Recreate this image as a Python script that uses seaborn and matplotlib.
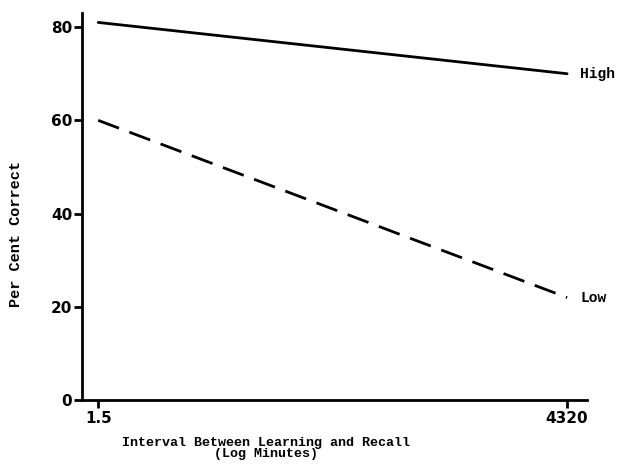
import matplotlib
matplotlib.use("Agg")
import matplotlib.pyplot as plt
import seaborn as sns
import pandas as pd
from matplotlib.ticker import FixedLocator, NullLocator

# data
intervals = [1.5, 4320]
high_values = [81, 70]
low_values = [60, 22]
group_names = ["High", "Low"]
y_ticks = [0, 20, 40, 60, 80]
x_tick_labels = ["1.5", "4320"]

df = pd.DataFrame({
    "interval": intervals * 2,
    "correct": high_values + low_values,
    "group": [group_names[0]] * len(intervals) + [group_names[1]] * len(intervals),
})

sns.set_style("ticks")
plt.rcParams['font.family'] = ['Liberation Mono', 'DejaVu Sans Mono']
plt.rcParams['text.color'] = 'black'
plt.rcParams['axes.labelcolor'] = 'black'
plt.rcParams['xtick.color'] = 'black'
plt.rcParams['ytick.color'] = 'black'

fig = plt.figure(figsize=(6.36, 4.68), dpi=100)
ax = fig.add_axes([0.129, 0.145, 0.794, 0.827])

sns.lineplot(data=df, x="interval", y="correct", hue="group", style="group",
             palette={"High": "black", "Low": "black"},
             dashes={"High": "", "Low": (8, 4)},
             linewidth=2.0, legend=False, ax=ax)

ax.set_xscale("log")
ax.set_xlim(1.14, 6060)
ax.set_ylim(0, 83)

ax.xaxis.set_major_locator(FixedLocator(intervals))
ax.xaxis.set_minor_locator(NullLocator())
ax.set_xticklabels(x_tick_labels, fontsize=11, fontweight="bold", family="DejaVu Sans")
ax.set_yticks(y_ticks)
ax.set_yticklabels([str(v) for v in y_ticks], fontsize=11, fontweight="bold", family="DejaVu Sans")

ax.tick_params(axis="both", which="major", direction="out", length=6, width=2,
               color="black", bottom=True, left=True)
ax.tick_params(axis="x", pad=2)
ax.tick_params(axis="y", pad=1)

sns.despine(ax=ax)
for side in ["left", "bottom"]:
    ax.spines[side].set_linewidth(2.0)
    ax.spines[side].set_color("black")

# end labels
ax.text(intervals[-1] * 1.25, high_values[-1], group_names[0], fontsize=10.5,
        fontweight="bold", va="center", ha="left")
ax.text(intervals[-1] * 1.25, low_values[-1], group_names[1], fontsize=10.5,
        fontweight="bold", va="center", ha="left")

ax.set_xlabel("Interval Between Learning and Recall\n(Log Minutes)", fontsize=9.6,
              fontweight="bold", linespacing=0.85, labelpad=8)
ax.xaxis.label.set_x(0.364)
ax.set_ylabel("Per Cent Correct", fontsize=11, fontweight="bold", labelpad=20)
ax.yaxis.label.set_y(0.43)

fig.savefig("out.png", dpi=100)
